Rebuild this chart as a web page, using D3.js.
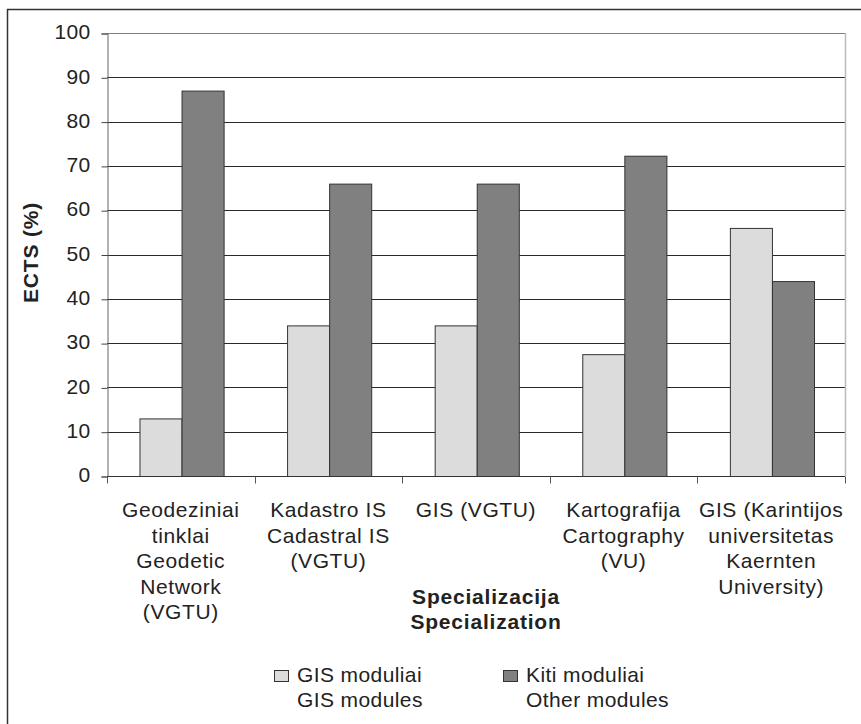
<!DOCTYPE html>
<html>
<head>
<meta charset="utf-8">
<script src="https://cdn.jsdelivr.net/npm/d3@7"></script>
<style>
  html, body { margin: 0; padding: 0; background: #fff; }
  svg { display: block; font-family: "Liberation Sans", Arial, sans-serif; }
</style>
</head>
<body>
<svg id="chart" width="861" height="724"></svg>
<script>
// Specializations (multi-line labels, Lithuanian / English)
const categories = [
  ["Geodeziniai", "tinklai", "Geodetic", "Network", "(VGTU)"],
  ["Kadastro IS", "Cadastral IS", "(VGTU)"],
  ["GIS (VGTU)"],
  ["Kartografija", "Cartography", "(VU)"],
  ["GIS (Karintijos", "universitetas", "Kaernten", "University)"]
];
const seriesNames = [["GIS moduliai", "GIS modules"], ["Kiti moduliai", "Other modules"]];
const gisModules = [13, 34, 34, 27.5, 56];
const otherModules = [87, 66, 66, 72.3, 44];
const yTicks = [0, 10, 20, 30, 40, 50, 60, 70, 80, 90, 100];
const yTitle = "ECTS (%)";
const xTitle = ["Specializacija", "Specialization"];

const fills = ["#dcdcdc", "#808080"];
const textColor = "#222";

const svg = d3.select("#chart");

// Outer frame (top and left edges visible)
svg.append("line").attr("x1", 7).attr("x2", 861).attr("y1", 9.5).attr("y2", 9.5)
  .attr("stroke", "#333").attr("stroke-width", 1.5);
svg.append("line").attr("x1", 7.5).attr("x2", 7.5).attr("y1", 9).attr("y2", 724)
  .attr("stroke", "#333").attr("stroke-width", 1.5);

const plot = { left: 107, right: 845, top: 33, bottom: 476 };

const idx = d3.range(categories.length);
const x0 = d3.scaleBand().domain(idx).range([plot.left, plot.right]).padding(0);
const x1 = d3.scaleBand().domain([0, 1])
  .range([x0.bandwidth() * 0.22, x0.bandwidth() * 0.79]).padding(0);
const y = d3.scaleLinear().domain([0, 100]).range([plot.bottom, plot.top]);

// Horizontal gridlines
svg.append("g").selectAll("line").data(yTicks.filter(t => t > 0)).join("line")
  .attr("x1", plot.left).attr("x2", plot.right)
  .attr("y1", d => Math.round(y(d)) + 0.5).attr("y2", d => Math.round(y(d)) + 0.5)
  .attr("stroke", d => d === 100 ? "#7a7f86" : "#2a2a2a").attr("stroke-width", 1);

// Right edge of plot area
svg.append("line").attr("x1", plot.right + 0.5).attr("x2", plot.right + 0.5)
  .attr("y1", plot.top).attr("y2", plot.bottom)
  .attr("stroke", "#b8bcc2").attr("stroke-width", 1.5);

// Bars
const rows = idx.map(i => [gisModules[i], otherModules[i]]);
svg.append("g").selectAll("g").data(rows).join("g")
  .attr("transform", (d, i) => `translate(${x0(i)},0)`)
  .selectAll("rect").data(d => d.map((v, s) => ({ v, s }))).join("rect")
  .attr("x", d => x1(d.s) + 0.5)
  .attr("y", d => y(d.v) + 0.5)
  .attr("width", x1.bandwidth())
  .attr("height", d => y(0) - y(d.v))
  .attr("fill", d => fills[d.s])
  .attr("stroke", "#333").attr("stroke-width", 1);

// Y axis
const yAxis = svg.append("g").attr("transform", `translate(${plot.left + 0.5},0.5)`)
  .call(d3.axisLeft(y).tickValues(yTicks).tickSize(6).tickPadding(11));
yAxis.select(".domain").attr("stroke", "#666");
yAxis.selectAll(".tick line").attr("stroke", "#444");
yAxis.selectAll(".tick text").attr("font-size", 21).attr("fill", textColor)
  .attr("dy", "0.25em").attr("letter-spacing", 0.3)
  .attr("font-family", "'Liberation Sans', Arial, sans-serif");

// X axis (ticks at category boundaries)
const boundaries = idx.map(i => x0(i)).concat([plot.right]);
const xAxis = svg.append("g").attr("transform", `translate(0,${plot.bottom + 0.5})`);
xAxis.append("line").attr("x1", plot.left).attr("x2", plot.right)
  .attr("stroke", "#333").attr("stroke-width", 1.2);
xAxis.selectAll(".bt").data(boundaries).join("line").attr("class", "bt")
  .attr("x1", d => Math.round(d) + 0.5).attr("x2", d => Math.round(d) + 0.5)
  .attr("y1", 0).attr("y2", 7).attr("stroke", "#555");

// Category labels
svg.append("g").selectAll("text").data(categories).join("text")
  .attr("x", (d, i) => x0(i) + x0.bandwidth() / 2)
  .attr("y", 517)
  .attr("text-anchor", "middle")
  .attr("font-size", 21).attr("letter-spacing", 0.6).attr("fill", textColor)
  .selectAll("tspan").data(d => d).join("tspan")
  .attr("x", function () { return this.parentNode.getAttribute("x"); })
  .attr("dy", (d, j) => j === 0 ? 0 : 25.6)
  .text(d => d);

// Axis titles
svg.append("text")
  .attr("transform", `translate(38,${(plot.top + plot.bottom) / 2 - 2}) rotate(-90)`)
  .attr("text-anchor", "middle").attr("font-size", 21).attr("font-weight", "bold")
  .attr("letter-spacing", 0.8).attr("fill", textColor)
  .text(yTitle);

svg.append("text").attr("x", 486).attr("y", 604)
  .attr("text-anchor", "middle").attr("font-size", 21).attr("font-weight", "bold")
  .attr("letter-spacing", 0.8).attr("fill", textColor)
  .selectAll("tspan").data(xTitle).join("tspan")
  .attr("x", 486).attr("dy", (d, j) => j === 0 ? 0 : 25)
  .text(d => d);

// Legend
const legendX = [274, 503];
const legend = svg.append("g").selectAll("g").data(seriesNames).join("g")
  .attr("transform", (d, i) => `translate(${legendX[i]},670)`);
legend.append("rect").attr("x", 0.5).attr("y", 0.5).attr("width", 14).attr("height", 11)
  .attr("fill", (d, i) => fills[i]).attr("stroke", "#333");
legend.append("text").attr("x", 23).attr("y", 12)
  .attr("font-size", 21).attr("letter-spacing", 0.4).attr("fill", textColor)
  .selectAll("tspan").data(d => d).join("tspan")
  .attr("x", 23).attr("dy", (d, j) => j === 0 ? 0 : 25)
  .text(d => d);
</script>
</body>
</html>
